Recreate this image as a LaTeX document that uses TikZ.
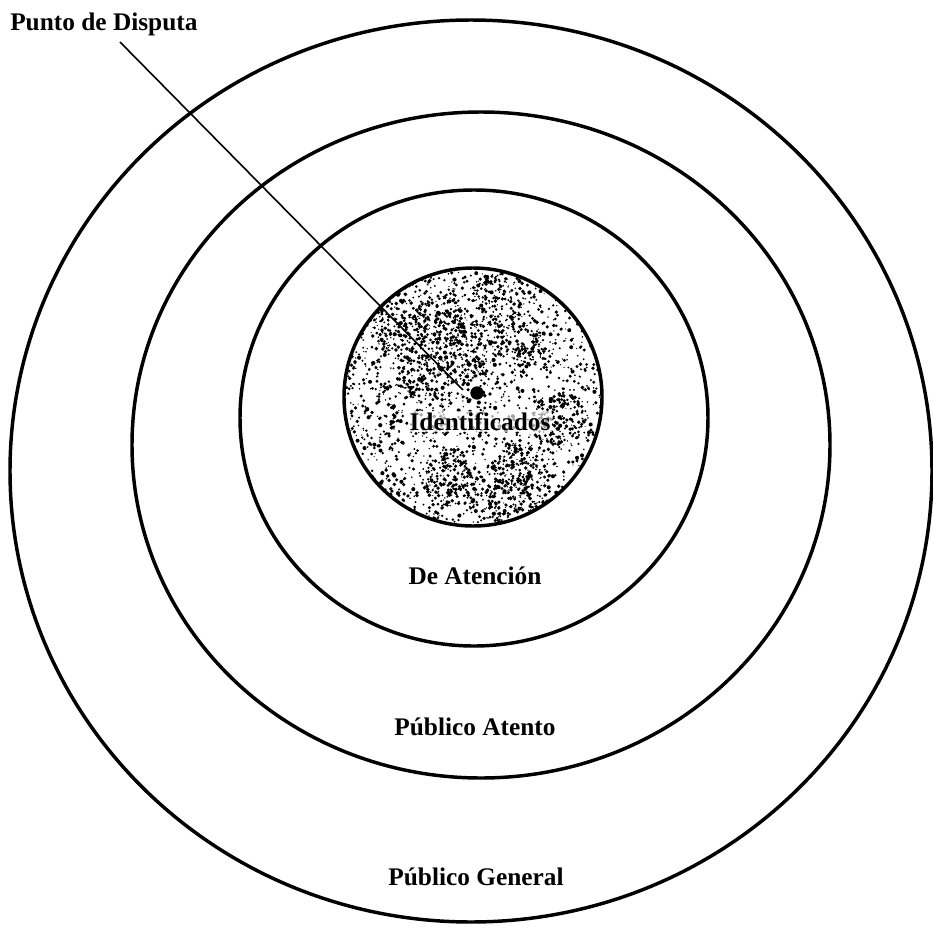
\documentclass[tikz,border=0pt]{standalone}
\usepackage{fontspec}
\setmainfont{Liberation Serif}
\begin{document}
\begin{tikzpicture}[x=0.75pt,y=-0.75pt,
  ring/.style={draw=black,line width=2.6pt},
  lbl/.style={font=\fontsize{19}{21}\selectfont\bfseries,inner sep=0pt,anchor=base},
  leader/.style={draw=black,line width=1.2pt}]
\useasboundingbox (0,0) rectangle (933,932);
% rings
\draw[ring] (471,471) ellipse [x radius=461,y radius=451];
\draw[ring] (481,445) ellipse [x radius=349,y radius=333];
\draw[ring] (474,418) ellipse [x radius=234,y radius=228];
% stippled core
\begin{scope}
  \clip (473,397) circle [radius=129];
  \pgfmathsetseed{7}
  \foreach \i in {1,...,1700}{
    \pgfmathsetmacro\ang{rnd*360}
    \pgfmathsetmacro\rad{129*sqrt(rnd)}
    \pgfmathsetmacro\sz{0.6+1.5*rnd}
    \fill[black] ([shift={(\ang:\rad)}]473,397) circle [radius=\sz];
  }
  \foreach \cx/\cy in {440/320,500/300,470/350,425/375,520/340,560/420,450/480,520/470,400/330,510/505}{
    \foreach \j in {1,...,130}{
      \pgfmathsetmacro\ang{rnd*360}
      \pgfmathsetmacro\rad{28*sqrt(rnd)}
      \pgfmathsetmacro\sz{0.6+1.4*rnd}
      \fill[black] ([shift={(\ang:\rad)}]\cx,\cy) circle [radius=\sz];
    }
  }
\end{scope}
\draw[ring] (473,397) circle [radius=129];
% point and leader
\node[circle,fill=black,inner sep=0pt,minimum size=10] (dot) at (477,393) {};
\coordinate (ls) at (120,42);
\coordinate (le) at (463,390);
\draw[leader] (ls) -- (le);
% labels
\node[lbl,anchor=base west] (punto) at (10,30) {Punto de Disputa};
\node[lbl,fill=white,fill opacity=0.65,text opacity=1,inner sep=1pt] (ident) at (480,430) {Identificados};
\node[lbl] (aten) at (475,584) {De Atención};
\node[lbl] (patento) at (475,735) {Público Atento};
\node[lbl] (pgeneral) at (476,885) {Público General};
\end{tikzpicture}
\end{document}
